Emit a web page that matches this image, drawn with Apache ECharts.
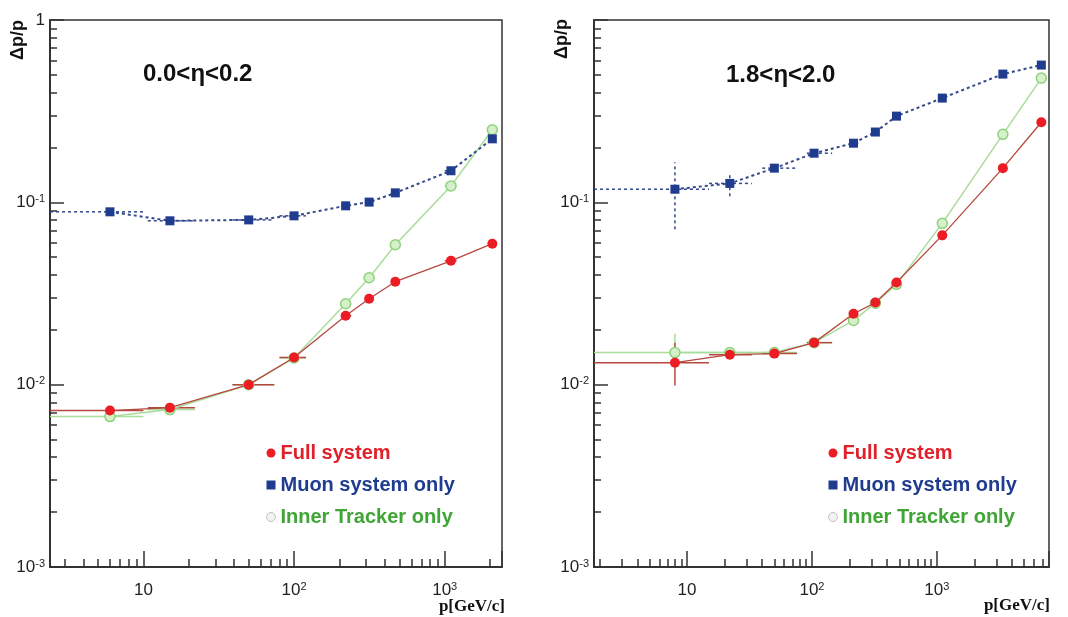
<!DOCTYPE html>
<html>
<head>
<meta charset="utf-8">
<script src="https://cdn.jsdelivr.net/npm/echarts@6/dist/echarts.min.js"></script>
<style>
html,body{margin:0;padding:0;background:#fff;}
#chart{width:1068px;height:617px;}
</style>
</head>
<body>
<div id="chart"></div>
<script>
// ---------- data ----------
// Left panel: 0.0 < eta < 0.2
const pL      = [6, 15, 50, 100, 220, 315, 470, 1100, 2070];
const fullL   = [0.00721, 0.00748, 0.0100, 0.0141, 0.0239, 0.0296, 0.0367, 0.0478, 0.0593];
const muonL   = [0.0887, 0.0792, 0.0801, 0.0843, 0.0957, 0.1003, 0.1127, 0.149, 0.223];
const innerL  = [0.00668, 0.0073, 0.0100, 0.0140, 0.0278, 0.0386, 0.0585, 0.123, 0.250];
const pLoL    = [2.4, 10.7, 39, 80, 205, 295, 440, 1000, 1950];
const pHiL    = [10, 22, 74, 120, 240, 335, 500, 1200, 2200];

// Right panel: 1.8 < eta < 2.0
const pR      = [8, 22, 50, 104, 215, 322, 475, 1105, 3375, 6860];
const fullR   = [0.0132, 0.0146, 0.0148, 0.0170, 0.0245, 0.0282, 0.0363, 0.0659, 0.154, 0.275];
const muonR   = [0.118, 0.127, 0.154, 0.186, 0.211, 0.243, 0.297, 0.373, 0.505, 0.566];
const innerR  = [0.0150, 0.0150, 0.0150, 0.0170, 0.0225, 0.0280, 0.0355, 0.0767, 0.236, 0.48];
const pLoR    = [1.8, 15, 40, 91, 200, 300, 450, 1050, 3200, 6500];
const pHiR    = [15, 33, 76, 145, 235, 345, 500, 1150, 3550, 7200];
// vertical error bars: [point index, low, high]
const fullVErrR  = [[0, 0.0099, 0.0170]];
const innerVErrR = [[0, 0.0132, 0.0190]];
const muonVErrR  = [[0, 0.0711, 0.166], [1, 0.108, 0.146]];

const seriesNames = ['Full system', 'Muon system only', 'Inner Tracker only'];
const panelTitles = ['0.0<\u03b7<0.2', '1.8<\u03b7<2.0'];
const yTitle = '\u0394p/p';
const xTitle = 'p[GeV/c]';

// ---------- styling ----------
const FONT = "'Liberation Sans', Arial, sans-serif";
const RED = '#ec1c24', RED_LINE = '#b5493f';
const BLUE = '#1f3c8f', BLUE_LINE = '#34498c';
const GREEN_FILL = '#d6f0ca', GREEN_EDGE = '#8fd27e', GREEN_LINE = '#a9dc9b';
const AX = '#333';

function powLabel(v) {
  const l = Math.log10(v);
  const e = Math.round(l);
  if (Math.abs(l - e) > 1e-6) return '';
  if (e === 0) return '{b|1}';
  if (e === 1) return '{b|10}';
  return '{b|10}{s|' + e + '}';
}
const rich = {
  b: {fontSize: 17, lineHeight: 18, fontFamily: FONT, color: '#222'},
  s: {fontSize: 11, lineHeight: 11, fontFamily: FONT, color: '#222', verticalAlign: 'top'}
};

function xAxisFor(grid, min, max) {
  return {
    type: 'log', logBase: 10, gridIndex: grid, min: min, max: max,
    axisLine: {show: true, lineStyle: {color: AX, width: 2}},
    axisTick: {show: true, inside: true, length: 16, lineStyle: {color: AX, width: 1.5}},
    minorTick: {show: true, splitNumber: 9, length: 8, lineStyle: {color: AX, width: 1.5}},
    splitLine: {show: false}, minorSplitLine: {show: false},
    axisLabel: {show: true, margin: 14, showMinLabel: false, showMaxLabel: false,
      formatter: powLabel, rich: rich}
  };
}
function yAxisFor(grid, showTop) {
  return {
    type: 'log', logBase: 10, gridIndex: grid, min: 0.001, max: 1,
    axisLine: {show: true, lineStyle: {color: AX, width: 2}},
    axisTick: {show: true, inside: true, length: 14, lineStyle: {color: AX, width: 1.5}},
    minorTick: {show: true, splitNumber: 9, length: 7, lineStyle: {color: AX, width: 1.5}},
    splitLine: {show: false}, minorSplitLine: {show: false},
    axisLabel: {show: true, margin: 5, showMaxLabel: showTop,
      formatter: function (v) { if (!showTop && Math.abs(v - 1) < 1e-9) return ''; return powLabel(v); },
      rich: rich}
  };
}

function lineSeries(name, grid, xs, ys, kind) {
  const data = xs.map((x, i) => [x, ys[i]]);
  const base = {name: name, type: 'line', xAxisIndex: grid, yAxisIndex: grid, data: data,
    smooth: false, animation: false, emphasis: {disabled: true}};
  if (kind === 'full') return Object.assign(base, {symbol: 'circle', symbolSize: 10, z: 5,
    itemStyle: {color: RED}, lineStyle: {color: RED_LINE, width: 1.3}});
  if (kind === 'muon') return Object.assign(base, {symbol: 'rect', symbolSize: 9, z: 4,
    itemStyle: {color: BLUE}, lineStyle: {color: BLUE_LINE, width: 2, type: [3, 3]}});
  return Object.assign(base, {symbol: 'circle', symbolSize: 10, z: 3,
    itemStyle: {color: GREEN_FILL, borderColor: GREEN_EDGE, borderWidth: 1.5},
    lineStyle: {color: GREEN_LINE, width: 1.5}});
}

function errSeries(grid, xs, ys, lo, hi, verr, color, dash, z) {
  const data = xs.map((x, i) => {
    let vlo = ys[i], vhi = ys[i];
    (verr || []).forEach(e => { if (e[0] === i) { vlo = e[1]; vhi = e[2]; } });
    return [x, ys[i], lo[i], hi[i], vlo, vhi];
  });
  return {
    type: 'custom', xAxisIndex: grid, yAxisIndex: grid, data: data, z: z, silent: true,
    animation: false, encode: {x: [0, 2, 3], y: [1, 4, 5]},
    renderItem: function (params, api) {
      const x = api.value(0), y = api.value(1);
      const a = api.coord([api.value(2), y]), b = api.coord([api.value(3), y]);
      const c = api.coord([x, api.value(4)]), d = api.coord([x, api.value(5)]);
      const st = {stroke: color, lineWidth: 1.5, lineDash: dash || null};
      const ch = [{type: 'line', shape: {x1: a[0], y1: a[1], x2: b[0], y2: b[1]}, style: st}];
      if (Math.abs(c[1] - d[1]) > 1) ch.push({type: 'line', shape: {x1: c[0], y1: c[1], x2: d[0], y2: d[1]}, style: st});
      return {type: 'group', children: ch};
    }
  };
}

function legendFor(left) {
  return {
    left: left, top: 438, orient: 'vertical', itemWidth: 9, itemHeight: 9, itemGap: 12,
    selectedMode: false,
    textStyle: {fontFamily: FONT, fontWeight: 'bold', fontSize: 20, lineHeight: 20},
    data: [
      {name: seriesNames[0], icon: 'circle', textStyle: {color: '#e0202a'}},
      {name: seriesNames[1], icon: 'rect', textStyle: {color: '#1f3c8f'}},
      {name: seriesNames[2], icon: 'circle', textStyle: {color: '#3fa535'},
        itemStyle: {color: '#f2f2f2', borderColor: '#c4c4c4', borderWidth: 1}}
    ]
  };
}

const chart = echarts.init(document.getElementById('chart'), null, {renderer: 'canvas'});
const option = {
  backgroundColor: '#fff',
  animation: false,
  grid: [
    {left: 50, top: 20, width: 452, height: 547, show: true, borderColor: AX, borderWidth: 1.5, backgroundColor: 'transparent'},
    {left: 594, top: 20, width: 455, height: 547, show: true, borderColor: AX, borderWidth: 1.5, backgroundColor: 'transparent'}
  ],
  xAxis: [xAxisFor(0, 2.4, 2400), xAxisFor(1, 1.8, 7900)],
  yAxis: [yAxisFor(0, true), yAxisFor(1, false)],
  legend: [legendFor(261), legendFor(823)],
  series: [
    errSeries(0, pL, innerL, pLoL, pHiL, null, GREEN_LINE, null, 1),
    errSeries(0, pL, muonL, pLoL, pHiL, null, BLUE_LINE, [3, 3], 1),
    errSeries(0, pL, fullL, pLoL, pHiL, null, RED_LINE, null, 2),
    lineSeries(seriesNames[2], 0, pL, innerL, 'inner'),
    lineSeries(seriesNames[1], 0, pL, muonL, 'muon'),
    lineSeries(seriesNames[0], 0, pL, fullL, 'full'),
    errSeries(1, pR, innerR, pLoR, pHiR, innerVErrR, GREEN_LINE, null, 1),
    errSeries(1, pR, muonR, pLoR, pHiR, muonVErrR, BLUE_LINE, [3, 3], 1),
    errSeries(1, pR, fullR, pLoR, pHiR, fullVErrR, RED_LINE, null, 2),
    lineSeries(seriesNames[2], 1, pR, innerR, 'inner'),
    lineSeries(seriesNames[1], 1, pR, muonR, 'muon'),
    lineSeries(seriesNames[0], 1, pR, fullR, 'full')
  ],
  graphic: [
    {type: 'text', left: 9, top: 20, rotation: Math.PI / 2, style: {text: yTitle, font: "bold 18px " + FONT, fill: '#111'}},
    {type: 'text', left: 553, top: 19, rotation: Math.PI / 2, style: {text: yTitle, font: "bold 18px " + FONT, fill: '#111'}},
    {type: 'text', left: 143, top: 62, style: {text: panelTitles[0], font: "bold 24px " + FONT, fill: '#111'}},
    {type: 'text', left: 726, top: 63, style: {text: panelTitles[1], font: "bold 24px " + FONT, fill: '#111'}},
    {type: 'text', right: 563, top: 598, style: {text: xTitle, font: "bold 17px 'Liberation Serif', 'Times New Roman', serif", fill: '#111'}},
    {type: 'text', right: 18, top: 597, style: {text: xTitle, font: "bold 17px 'Liberation Serif', 'Times New Roman', serif", fill: '#111'}}
  ]
};
chart.setOption(option);
</script>
</body>
</html>
